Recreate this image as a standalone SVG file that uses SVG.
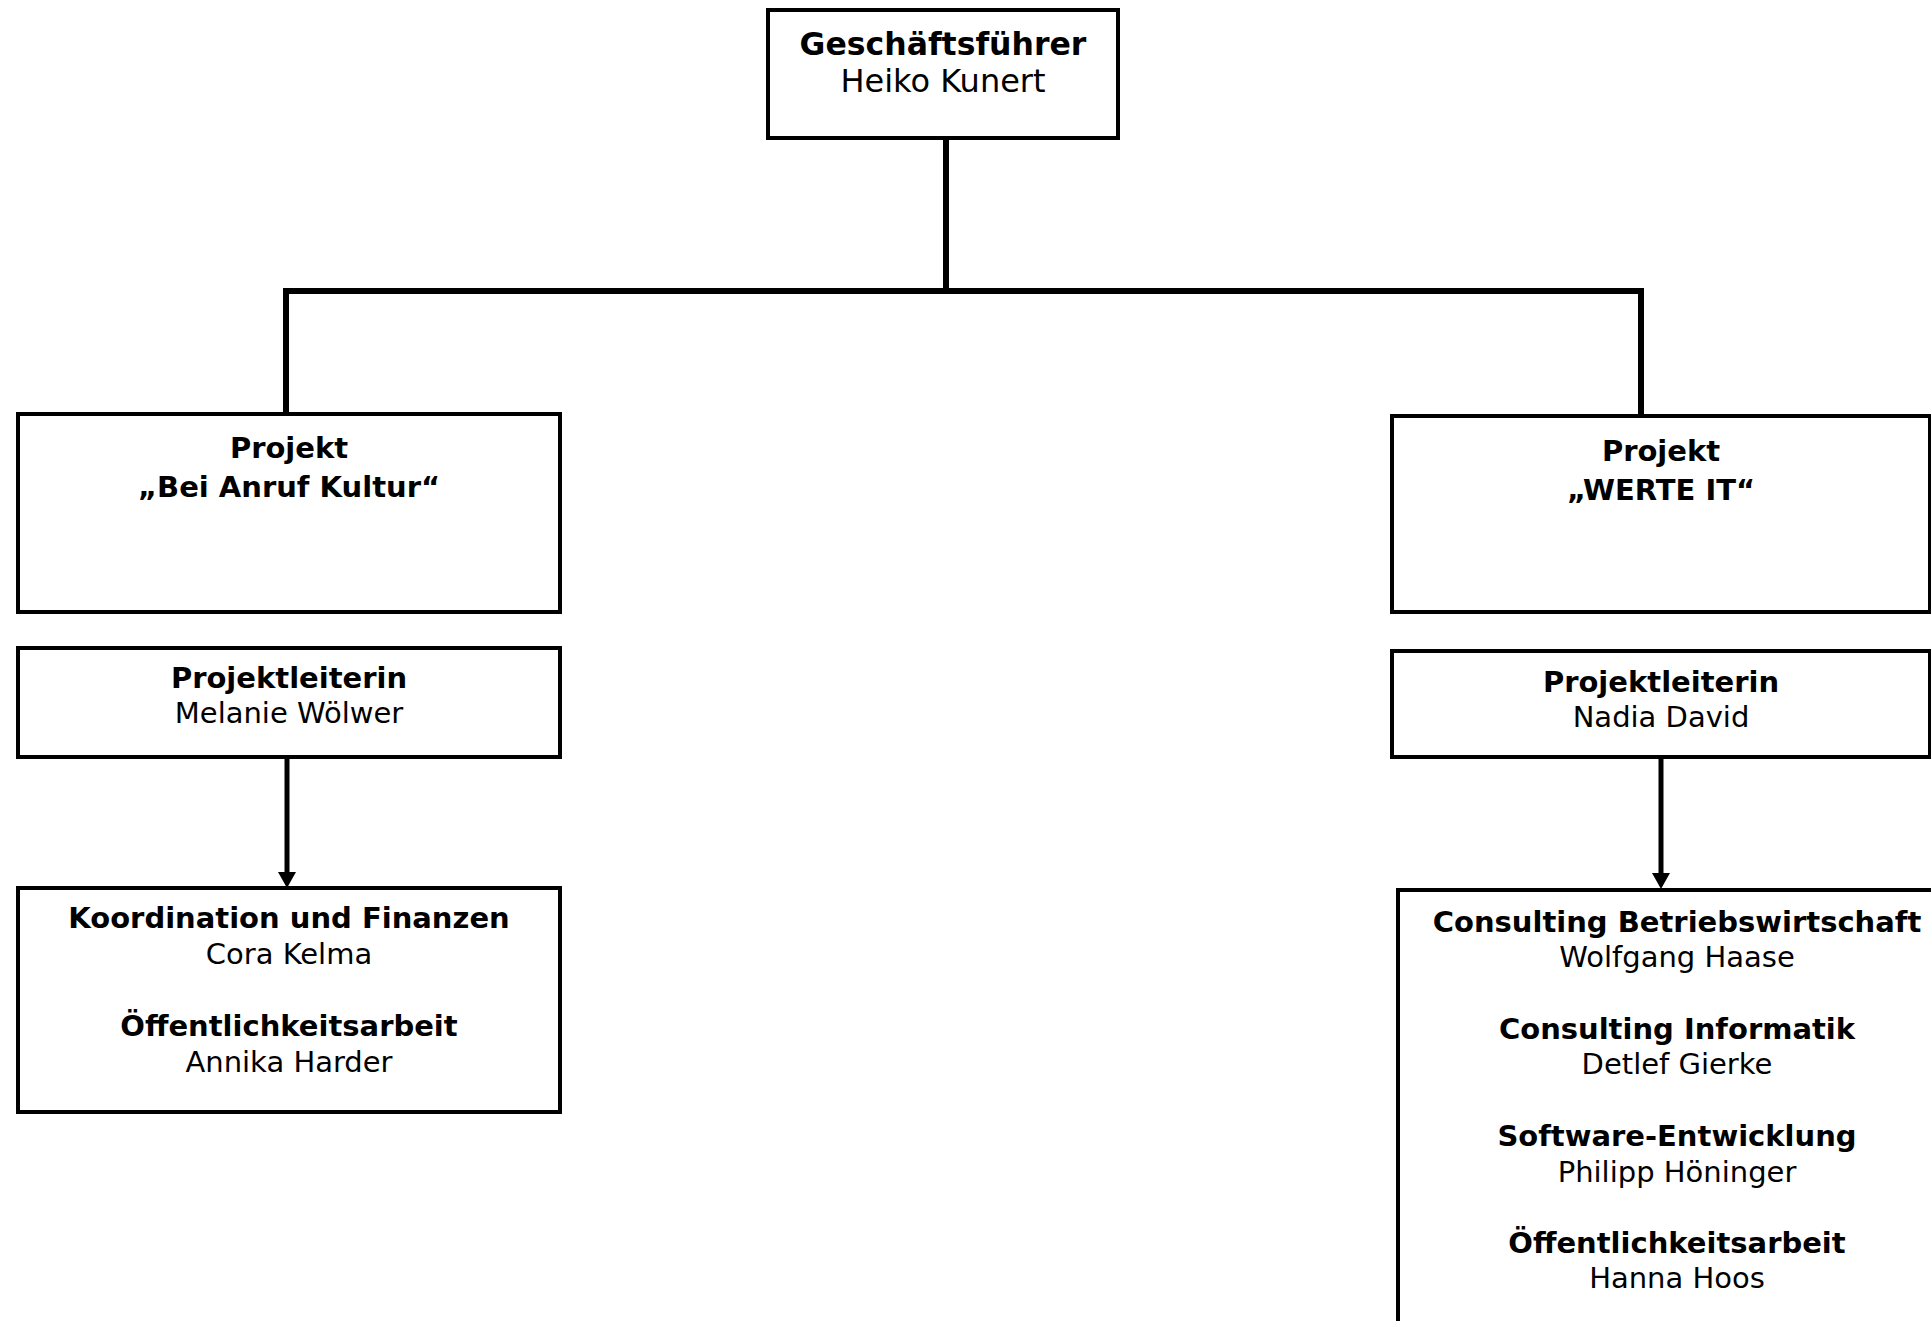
<svg xmlns="http://www.w3.org/2000/svg" width="1931" height="1321" viewBox="0 0 1931 1321">
<style>
.box{fill:#fff;stroke:#000;stroke-width:4}
.con{fill:none;stroke:#000;stroke-width:6}
.arr{fill:none;stroke:#000;stroke-width:5}
text{font-family:"DejaVu Sans","Verdana",sans-serif;fill:#000;text-anchor:middle}
.b{font-weight:bold;font-size:29px}
.r{font-size:29px}
.tb{font-weight:bold;font-size:31.5px}
.tr{font-size:32px}
</style>
<rect width="1931" height="1321" fill="#fff"/>
<g id="connectors">
<path class="con" d="M946,138 V291 M286,414 V291 H1641 V416"/>
<path class="arr" d="M287,757 V872"/>
<path d="M278,872 L296,872 L287,888 Z" fill="#000"/>
<path class="arr" d="M1661,757 V873"/>
<path d="M1652,873 L1670,873 L1661,889 Z" fill="#000"/>
</g>
<g id="gf">
<rect class="box" x="768" y="10" width="350" height="128"/>
<text class="tb" x="943" y="55">Geschäftsführer</text>
<text class="tr" x="943" y="92">Heiko Kunert</text>
</g>
<g id="projekt-bak">
<rect class="box" x="18" y="414" width="542" height="198"/>
<text class="b" x="289" y="458">Projekt</text>
<text class="b" x="289" y="497">„Bei Anruf Kultur“</text>
</g>
<g id="pl-bak">
<rect class="box" x="18" y="648" width="542" height="109"/>
<text class="b" x="289" y="688">Projektleiterin</text>
<text class="r" x="289" y="723">Melanie Wölwer</text>
</g>
<g id="team-bak">
<rect class="box" x="18" y="888" width="542" height="224"/>
<text class="b" x="289" y="928">Koordination und Finanzen</text>
<text class="r" x="289" y="964">Cora Kelma</text>
<text class="b" x="289" y="1036">Öffentlichkeitsarbeit</text>
<text class="r" x="289" y="1072">Annika Harder</text>
</g>
<g id="projekt-werte">
<rect class="box" x="1392" y="416" width="538" height="196"/>
<text class="b" x="1661" y="461">Projekt</text>
<text class="b" x="1661" y="500">„WERTE IT“</text>
</g>
<g id="pl-werte">
<rect class="box" x="1392" y="651" width="538" height="106"/>
<text class="b" x="1661" y="692">Projektleiterin</text>
<text class="r" x="1661" y="727">Nadia David</text>
</g>
<g id="team-werte">
<rect class="box" x="1398" y="890" width="560" height="460"/>
<text class="b" x="1677" y="932">Consulting Betriebswirtschaft</text>
<text class="r" x="1677" y="967">Wolfgang Haase</text>
<text class="b" x="1677" y="1039">Consulting Informatik</text>
<text class="r" x="1677" y="1074">Detlef Gierke</text>
<text class="b" x="1677" y="1146">Software-Entwicklung</text>
<text class="r" x="1677" y="1182">Philipp Höninger</text>
<text class="b" x="1677" y="1253">Öffentlichkeitsarbeit</text>
<text class="r" x="1677" y="1288">Hanna Hoos</text>
</g>
</svg>
